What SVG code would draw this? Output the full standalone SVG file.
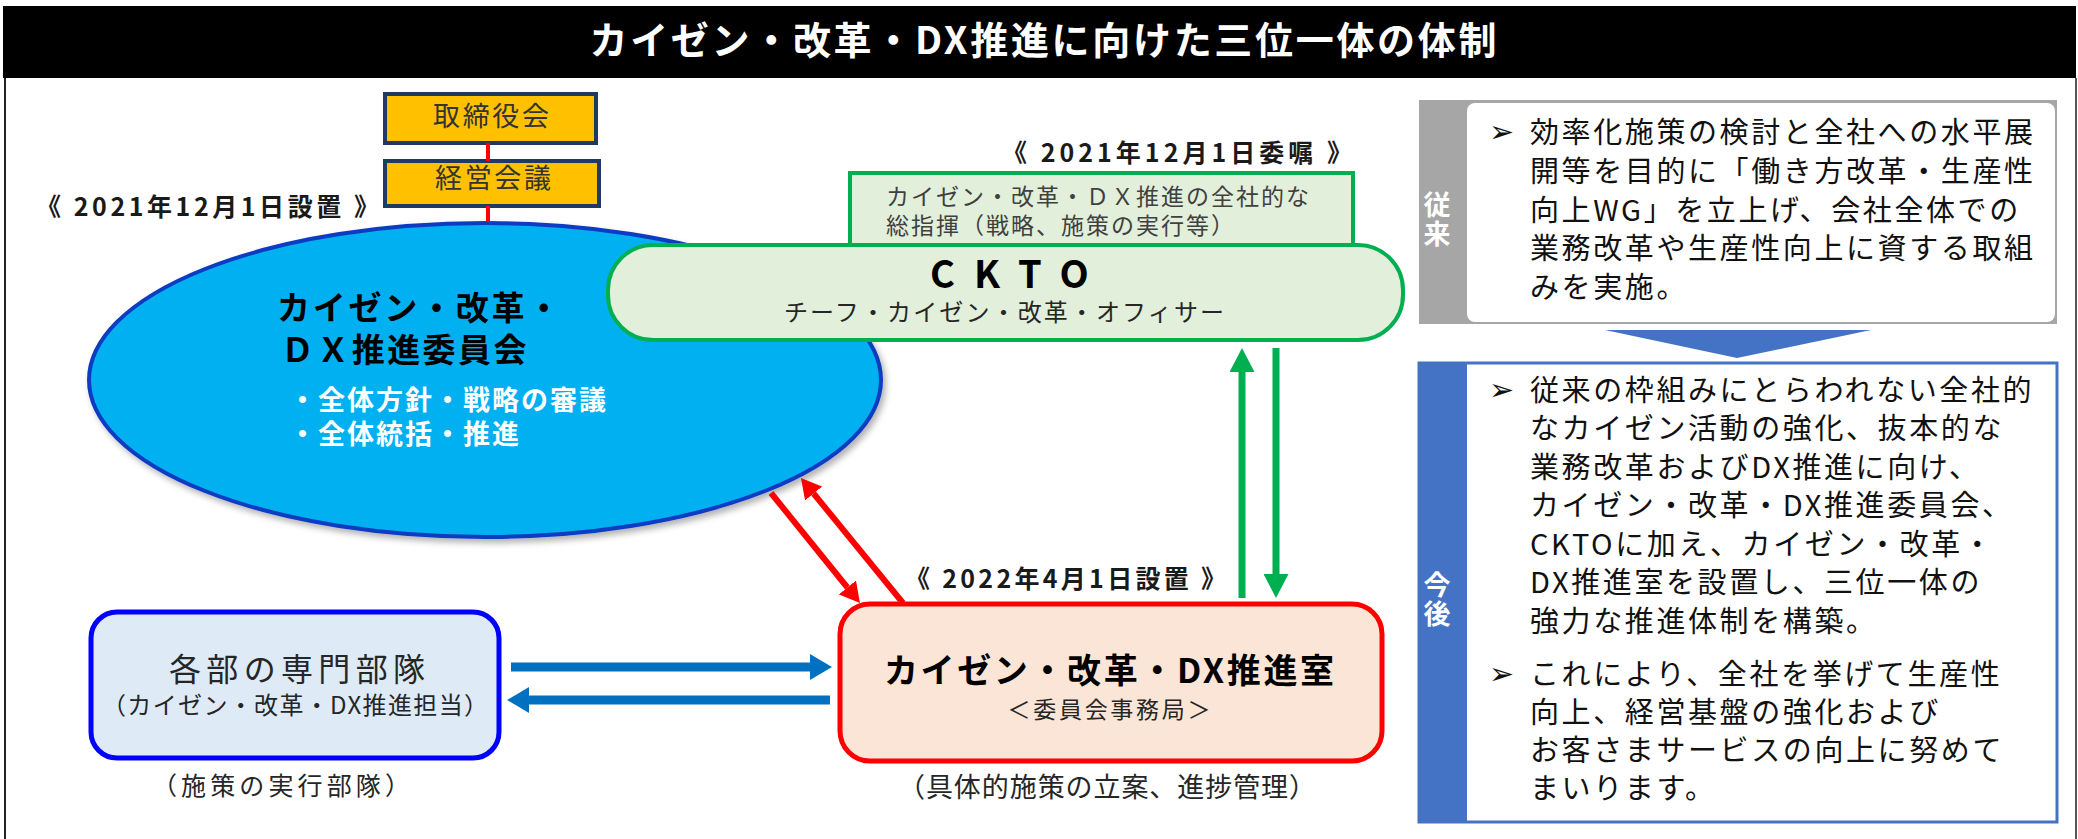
<svg xmlns="http://www.w3.org/2000/svg" width="2078" height="839" viewBox="0 0 2078 839">
<defs>
<style>
text{font-family:'Noto Sans CJK JP','Noto Sans',sans-serif;}
.title{fill:#fff;font-size:38px;font-weight:700}
.date{font-size:25px;font-weight:700;fill:#1a1a1a}
.gov{fill:#FFC000;stroke:#1F3864;stroke-width:4}
.gtxt{font-size:27px;fill:#333}
.green{fill:#E2EFDA;stroke:#00B050;stroke-width:4}
.rt{font-size:29px;fill:#111;letter-spacing:2.6px}
.bul{font-family:'DejaVu Sans',sans-serif;font-size:30px;fill:#111}
.side{font-size:27px;font-weight:700;fill:#fff;writing-mode:vertical-rl;letter-spacing:2px}
.red{stroke:#FF0000;stroke-width:6;fill:none}
.grn{stroke:#00B050;stroke-width:7;fill:none}
.blu{stroke:#0070C0;stroke-width:9;fill:none}
</style>
<marker id="mr" markerUnits="userSpaceOnUse" markerWidth="20" markerHeight="22" viewBox="0 0 20 22" refX="0" refY="11" orient="auto"><path d="M0,0 L20,11 L0,22 z" fill="#FF0000"/></marker>
<marker id="mg" markerUnits="userSpaceOnUse" markerWidth="24" markerHeight="25" viewBox="0 0 24 25" refX="0" refY="12.5" orient="auto"><path d="M0,0 L24,12.5 L0,25 z" fill="#00B050"/></marker>
<marker id="mb" markerUnits="userSpaceOnUse" markerWidth="22" markerHeight="26" viewBox="0 0 22 26" refX="0" refY="13" orient="auto"><path d="M0,0 L22,13 L0,26 z" fill="#0070C0"/></marker>
<filter id="sh" x="-5%" y="-5%" width="115%" height="120%"><feDropShadow dx="3" dy="4" stdDeviation="3" flood-color="#000" flood-opacity="0.3"/></filter>
</defs>

<g id="frame">
<rect x="3" y="6" width="2073" height="72" fill="#000"/>
<line x1="5" y1="78" x2="5" y2="839" stroke="#222" stroke-width="2"/>
<line x1="2076" y1="78" x2="2076" y2="839" stroke="#555" stroke-width="2"/>
<text class="title" x="1043" y="54" text-anchor="middle" textLength="907">カイゼン・改革・DX推進に向けた三位一体の体制</text>
</g>

<g id="board">
<rect class="gov" x="385" y="94" width="211" height="49"/>
<text class="gtxt" x="491" y="126" text-anchor="middle" textLength="116">取締役会</text>
</g>
<g id="mgmt">
<rect class="gov" x="385" y="161" width="214" height="45"/>
<text class="gtxt" x="493" y="188" text-anchor="middle" textLength="116">経営会議</text>
</g>

<g id="committee">
<text class="date" x="36" y="216" textLength="343">《 2021年12月1日設置 》</text>
<ellipse cx="485" cy="380" rx="396" ry="157" fill="#00B0F0" stroke="#0A3AC2" stroke-width="4" filter="url(#sh)"/>
<text font-size="33" font-weight="700" fill="#000"><tspan x="277" y="320" letter-spacing="2.75">カイゼン・改革・</tspan><tspan x="281" y="362" letter-spacing="2.4">ＤＸ推進委員会</tspan></text>
<text font-size="27" font-weight="700" fill="#fff" letter-spacing="2"><tspan x="289" y="410">・全体方針・戦略の審議</tspan><tspan x="289" y="444">・全体統括・推進</tspan></text>
</g>

<g id="ckto">
<text class="date" x="1002" y="162" textLength="350">《 2021年12月1日委嘱 》</text>
<rect class="green" x="850" y="173" width="503" height="90"/>
<text font-size="23" fill="#404040" letter-spacing="2"><tspan x="886" y="205">カイゼン・改革・ＤＸ推進の全社的な</tspan><tspan x="886" y="234">総指揮（戦略、施策の実行等）</tspan></text>
<rect class="green" x="608" y="245" width="795" height="95" rx="45"/>
<text x="930" y="288" font-size="38" font-weight="700" fill="#000" letter-spacing="19">CKTO</text>
<text x="1004" y="321" font-size="24" fill="#262626" text-anchor="middle" textLength="440">チーフ・カイゼン・改革・オフィサー</text>
</g>

<g id="departments">
<rect x="91" y="612" width="408" height="146" rx="26" fill="#DEEBF7" stroke="#0000FF" stroke-width="5"/>
<text x="297" y="681" font-size="32" fill="#262626" text-anchor="middle" textLength="256">各部の専門部隊</text>
<text x="295" y="714" font-size="24" fill="#262626" text-anchor="middle" textLength="386">（カイゼン・改革・DX推進担当）</text>
<text x="281" y="795" font-size="25" fill="#262626" text-anchor="middle" textLength="258">（施策の実行部隊）</text>
</g>

<g id="dx-office">
<text class="date" x="905" y="588" textLength="321">《 2022年4月1日設置 》</text>
<rect x="840" y="604" width="542" height="157" rx="30" fill="#FBE5D6" stroke="#FF0000" stroke-width="5"/>
<text x="1109" y="683" font-size="34" font-weight="700" fill="#000" text-anchor="middle" textLength="450">カイゼン・改革・DX推進室</text>
<text x="1109" y="718" font-size="23" fill="#262626" text-anchor="middle" textLength="203">＜委員会事務局＞</text>
<text x="1107" y="797" font-size="27" fill="#262626" text-anchor="middle" textLength="418">（具体的施策の立案、進捗管理）</text>
</g>

<g id="before">
<rect x="1419" y="100" width="638" height="224" fill="#A6A6A6"/>
<rect x="1467" y="103" width="588" height="219" rx="8" fill="#fff"/>
<text class="side" x="1437" y="191">従来</text>
<text class="bul" x="1489" y="142">➢</text>
<text class="rt"><tspan x="1530" y="143">効率化施策の検討と全社への水平展</tspan><tspan x="1530" y="182">開等を目的に「働き方改革・生産性</tspan><tspan x="1530" y="221">向上WG」を立上げ、会社全体での</tspan><tspan x="1530" y="259">業務改革や生産性向上に資する取組</tspan><tspan x="1530" y="298">みを実施。</tspan></text>
</g>

<g id="after">
<rect x="1419" y="363" width="638" height="459" fill="#fff" stroke="#4472C4" stroke-width="3"/>
<rect x="1419" y="363" width="48" height="459" fill="#4472C4"/>
<text class="side" x="1437" y="571">今後</text>
<text class="bul" x="1489" y="400">➢</text>
<text class="rt"><tspan x="1530" y="401">従来の枠組みにとらわれない全社的</tspan><tspan x="1530" y="439">なカイゼン活動の強化、抜本的な</tspan><tspan x="1530" y="478">業務改革およびDX推進に向け、</tspan><tspan x="1530" y="516">カイゼン・改革・DX推進委員会、</tspan><tspan x="1530" y="555">CKTOに加え、カイゼン・改革・</tspan><tspan x="1530" y="593">DX推進室を設置し、三位一体の</tspan><tspan x="1530" y="632">強力な推進体制を構築。</tspan></text>
<text class="bul" x="1489" y="684">➢</text>
<text class="rt"><tspan x="1530" y="685">これにより、全社を挙げて生産性</tspan><tspan x="1530" y="723">向上、経営基盤の強化および</tspan><tspan x="1530" y="761">お客さまサービスの向上に努めて</tspan><tspan x="1530" y="799">まいります。</tspan></text>
</g>

<g id="connectors">
<line x1="488" y1="143" x2="488" y2="161" stroke="#FF0000" stroke-width="4"/>
<line x1="488" y1="206" x2="488" y2="222" stroke="#FF0000" stroke-width="4"/>
<path class="red" d="M771,493 L847.4,587.5" marker-end="url(#mr)"/>
<path class="red" d="M903,603 L813.6,493.5" marker-end="url(#mr)"/>
<path class="grn" d="M1242,598 L1242,372" marker-end="url(#mg)"/>
<path class="grn" d="M1276,348 L1276,574" marker-end="url(#mg)"/>
<path class="blu" d="M511,667 L810,667" marker-end="url(#mb)"/>
<path class="blu" d="M830,700 L529,700" marker-end="url(#mb)"/>
<polygon points="1605,330 1871,330 1737,358" fill="#4472C4"/>
</g>
</svg>
